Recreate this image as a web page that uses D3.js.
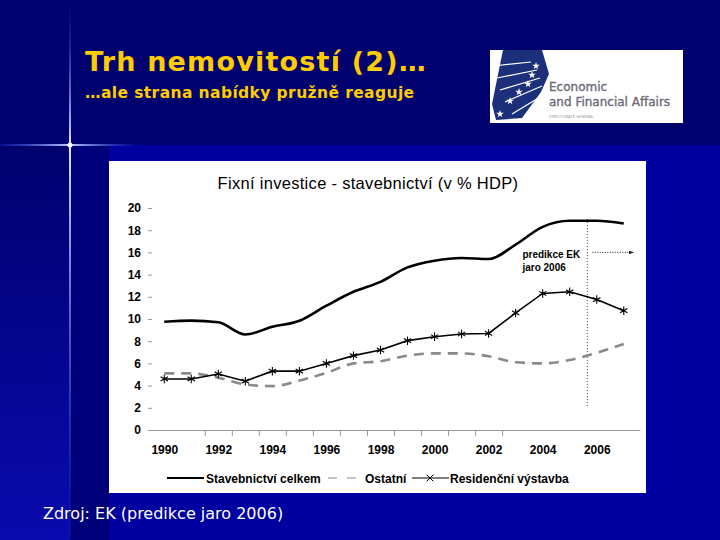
<!DOCTYPE html>
<html>
<head>
<meta charset="utf-8">
<script src="https://cdn.jsdelivr.net/npm/d3@7"></script>
<style>
  body { margin: 0; background: #00006e; }
  svg { display: block; }
  .slide-title { font-family: "DejaVu Sans", Verdana, sans-serif; font-weight: bold; fill: #ffcc00; }
  .chart-text { font-family: "Liberation Sans", Arial, sans-serif; fill: #000; }
  .axis text { font-family: "Liberation Sans", Arial, sans-serif; font-size: 12px; font-weight: bold; fill: #000; }
  .axis line, .axis path { stroke: #999; }
</style>
</head>
<body>
<svg id="svg" width="720" height="540"></svg>
<script>
// data (v % HDP)
var years = [1990, 1991, 1992, 1993, 1994, 1995, 1996, 1997, 1998, 1999, 2000, 2001, 2002, 2003, 2004, 2005, 2006, 2007];
var celkem = [9.75, 9.85, 9.7, 8.6, 9.3, 9.85, 11.2, 12.45, 13.35, 14.65, 15.25, 15.5, 15.4, 16.7, 18.3, 18.85, 18.85, 18.6];
var ostatni = [5.1, 5.1, 4.7, 4.1, 3.95, 4.45, 5.15, 6.0, 6.2, 6.7, 6.9, 6.9, 6.65, 6.1, 6.0, 6.3, 6.95, 7.75];
var residencni = [4.6, 4.6, 5.05, 4.4, 5.3, 5.3, 6.0, 6.7, 7.2, 8.05, 8.4, 8.65, 8.7, 10.55, 12.3, 12.45, 11.75, 10.75];
var yTicks = [0, 2, 4, 6, 8, 10, 12, 14, 16, 18, 20];
var yearLabels = [1990, 1992, 1994, 1996, 1998, 2000, 2002, 2004, 2006];
var halfYearTicks = [1991.5, 1992.5, 1993.5, 1994.5, 1995.5, 1996.5, 1997.5, 1998.5, 1999.5, 2000.5, 2001.5, 2002.5];
var forecastYear = 2005.65;
var legendNames = ["Stavebnictví celkem", "Ostatní", "Residenční výstavba"];

var svg = d3.select("#svg");
var defs = svg.append("defs");

// ---- slide background ----
var leftGrad = defs.append("linearGradient").attr("id", "leftGrad")
  .attr("x1", 0).attr("y1", 0).attr("x2", 0).attr("y2", 1);
leftGrad.append("stop").attr("offset", "0%").attr("stop-color", "#00006e");
leftGrad.append("stop").attr("offset", "100%").attr("stop-color", "#0a0aae");

var hGlow = defs.append("linearGradient").attr("id", "hGlow");
hGlow.append("stop").attr("offset", "0%").attr("stop-color", "#3050ff").attr("stop-opacity", 0.2);
hGlow.append("stop").attr("offset", "50%").attr("stop-color", "#c0d0ff").attr("stop-opacity", 1);
hGlow.append("stop").attr("offset", "100%").attr("stop-color", "#3050ff").attr("stop-opacity", 0);

var vGlow = defs.append("linearGradient").attr("id", "vGlow")
  .attr("x1", 0).attr("y1", 0).attr("x2", 0).attr("y2", 1);
vGlow.append("stop").attr("offset", "0%").attr("stop-color", "#2040ff").attr("stop-opacity", 0);
vGlow.append("stop").attr("offset", "27%").attr("stop-color", "#e0e8ff").attr("stop-opacity", 1);
vGlow.append("stop").attr("offset", "100%").attr("stop-color", "#2040ff").attr("stop-opacity", 0.1);

svg.append("rect").attr("width", 720).attr("height", 540).attr("fill", "#00006e");
svg.append("rect").attr("x", 110).attr("y", 145).attr("width", 610).attr("height", 395).attr("fill", "#0000a0");
svg.append("rect").attr("x", 0).attr("y", 145).attr("width", 70).attr("height", 395).attr("fill", "url(#leftGrad)");
svg.append("rect").attr("x", 70).attr("y", 145).attr("width", 40).attr("height", 395).attr("fill", "#00007a");
svg.append("rect").attr("x", 0).attr("y", 144).attr("width", 140).attr("height", 2).attr("fill", "url(#hGlow)");
svg.append("rect").attr("x", 69).attr("y", 0).attr("width", 2).attr("height", 540).attr("fill", "url(#vGlow)");
svg.append("circle").attr("cx", 70).attr("cy", 145).attr("r", 2.5).attr("fill", "#fff");

// ---- slide titles ----
svg.append("text").attr("class", "slide-title").attr("x", 85).attr("y", 71)
  .style("font-size", "27px").style("letter-spacing", "1.2px").text("Trh nemovitostí (2)…");
svg.append("text").attr("class", "slide-title").attr("x", 85).attr("y", 98)
  .style("font-size", "15.5px").style("letter-spacing", "0.4px").text("…ale strana nabídky pružně reaguje");

// ---- logo ----
var logo = svg.append("g");
logo.append("rect").attr("x", 490).attr("y", 50).attr("width", 193).attr("height", 73).attr("fill", "#fff");
logo.append("path").attr("d", "M503,50 L542,50 L549,74 L541,92 L522,118 L496,120 L492,104 Z").attr("fill", "#1c2f7a");
[[493, 66, 531, 62], [497, 78, 537, 70], [500, 90, 540, 78], [505, 102, 542, 86], [512, 114, 545, 94]].forEach(function (l) {
  logo.append("line").attr("x1", l[0]).attr("y1", l[1]).attr("x2", l[2]).attr("y2", l[3])
    .attr("stroke", "#fff").attr("stroke-width", 1.2);
});
[[536, 66], [532, 75], [528, 84], [519, 92], [510, 101], [500, 114]].forEach(function (p) {
  logo.append("path").attr("transform", "translate(" + p[0] + "," + p[1] + ")")
    .attr("d", d3.symbol(d3.symbolStar, 18)()).attr("fill", "#fff");
});
logo.append("text").attr("x", 549).attr("y", 91).attr("fill", "#6a6a78")
  .attr("stroke", "#6a6a78").attr("stroke-width", 0.35)
  .style("font", "12px 'DejaVu Sans', sans-serif").text("Economic");
logo.append("text").attr("x", 549).attr("y", 106).attr("fill", "#6a6a78")
  .attr("stroke", "#6a6a78").attr("stroke-width", 0.35)
  .style("font", "12px 'DejaVu Sans', sans-serif").text("and Financial Affairs");
logo.append("text").attr("x", 549).attr("y", 118).attr("fill", "#8a8a98")
  .style("font", "4px 'Open Sans', sans-serif").text("DIRECTORATE-GENERAL");

// ---- chart panel ----
svg.append("rect").attr("x", 109).attr("y", 161).attr("width", 537).attr("height", 332).attr("fill", "#fff");

svg.append("text").attr("class", "chart-text").attr("x", 368).attr("y", 189)
  .attr("text-anchor", "middle").style("font-size", "16.5px").style("letter-spacing", "0.3px")
  .text("Fixní investice - stavebnictví (v % HDP)");

var x = d3.scaleLinear().domain([1989.4, 2007.6]).range([148, 640]);
var y = d3.scaleLinear().domain([0, 20]).range([430, 208]);

// y axis
svg.append("g").attr("class", "axis")
  .attr("transform", "translate(152,0)")
  .call(d3.axisLeft(y).tickValues(yTicks).tickSize(4).tickPadding(7))
  .call(function (g) { g.select(".domain").remove(); });

// x axis line + half-year ticks
svg.append("g").attr("class", "axis")
  .attr("transform", "translate(0," + y(0) + ")")
  .call(d3.axisBottom(x).tickValues(halfYearTicks).tickSize(6).tickSizeOuter(0).tickFormat(""));

// year labels
svg.append("g").attr("class", "axis")
  .attr("transform", "translate(0," + y(0) + ")")
  .call(d3.axisBottom(x).tickValues(yearLabels).tickSize(0).tickPadding(15).tickFormat(d3.format("d")))
  .call(function (g) { g.select(".domain").remove(); });

// forecast marker
svg.append("line")
  .attr("x1", x(forecastYear)).attr("x2", x(forecastYear))
  .attr("y1", y(19)).attr("y2", y(2.1))
  .attr("stroke", "#444").attr("stroke-width", 1).attr("stroke-dasharray", "1,2");

defs.append("marker").attr("id", "arrow").attr("viewBox", "0 0 10 10")
  .attr("refX", 9).attr("refY", 5).attr("markerWidth", 5).attr("markerHeight", 5)
  .attr("orient", "auto")
  .append("path").attr("d", "M0,1 L10,5 L0,9 Z").attr("fill", "#222");

svg.append("line")
  .attr("x1", x(forecastYear) + 5).attr("x2", x(2007.35))
  .attr("y1", y(16)).attr("y2", y(16))
  .attr("stroke", "#222").attr("stroke-width", 1).attr("stroke-dasharray", "1,1.5")
  .attr("marker-end", "url(#arrow)");

svg.append("text").attr("class", "chart-text").attr("x", x(2003.25)).attr("y", y(15.5))
  .style("font-size", "10px").style("font-weight", "bold").text("predikce EK");
svg.append("text").attr("class", "chart-text").attr("x", x(2003.25)).attr("y", y(14.35))
  .style("font-size", "10px").style("font-weight", "bold").text("jaro 2006");

// series
var smooth = d3.line().x(function (d, i) { return x(years[i]); }).y(function (d) { return y(d); })
  .curve(d3.curveMonotoneX);
var straight = d3.line().x(function (d, i) { return x(years[i]); }).y(function (d) { return y(d); });

svg.append("path").datum(ostatni).attr("d", smooth)
  .attr("fill", "none").attr("stroke", "#8a8a8a").attr("stroke-width", 2.6).attr("stroke-dasharray", "10,7");

svg.append("path").datum(celkem).attr("d", smooth)
  .attr("fill", "none").attr("stroke", "#000").attr("stroke-width", 2.6);

svg.append("path").datum(residencni).attr("d", straight)
  .attr("fill", "none").attr("stroke", "#000").attr("stroke-width", 1.6);

svg.selectAll(".res-marker").data(residencni).enter().append("path")
  .attr("class", "res-marker")
  .attr("transform", function (d, i) { return "translate(" + x(years[i]) + "," + y(d) + ")"; })
  .attr("d", d3.symbol(d3.symbolAsterisk, 50)())
  .attr("fill", "#fff").attr("stroke", "#000").attr("stroke-width", 1.1);

// legend
var lg = svg.append("g").attr("transform", "translate(0,478)");
lg.append("line").attr("x1", 167).attr("x2", 204).attr("y1", 0).attr("y2", 0)
  .attr("stroke", "#000").attr("stroke-width", 2.2);
lg.append("text").attr("class", "chart-text").attr("x", 206).attr("y", 4.5)
  .style("font-size", "12px").style("font-weight", "bold").text(legendNames[0]);
lg.append("line").attr("x1", 328).attr("x2", 356).attr("y1", 0).attr("y2", 0)
  .attr("stroke", "#8a8a8a").attr("stroke-width", 1.2).attr("stroke-dasharray", "9,10");
lg.append("text").attr("class", "chart-text").attr("x", 365).attr("y", 4.5)
  .style("font-size", "12px").style("font-weight", "bold").text(legendNames[1]);
lg.append("line").attr("x1", 412).attr("x2", 449).attr("y1", 0).attr("y2", 0)
  .attr("stroke", "#000").attr("stroke-width", 1.2);
lg.append("path").attr("transform", "translate(430,0)")
  .attr("d", d3.symbol(d3.symbolX, 30)()).attr("fill", "none").attr("stroke", "#000").attr("stroke-width", 1);
lg.append("text").attr("class", "chart-text").attr("x", 450).attr("y", 4.5)
  .style("font-size", "12px").style("font-weight", "bold").text(legendNames[2]);

// source
svg.append("text").attr("x", 43).attr("y", 519).attr("fill", "#fff")
  .style("font", "16px 'DejaVu Sans', Verdana, sans-serif").text("Zdroj: EK (predikce jaro 2006)");
</script>
</body>
</html>
